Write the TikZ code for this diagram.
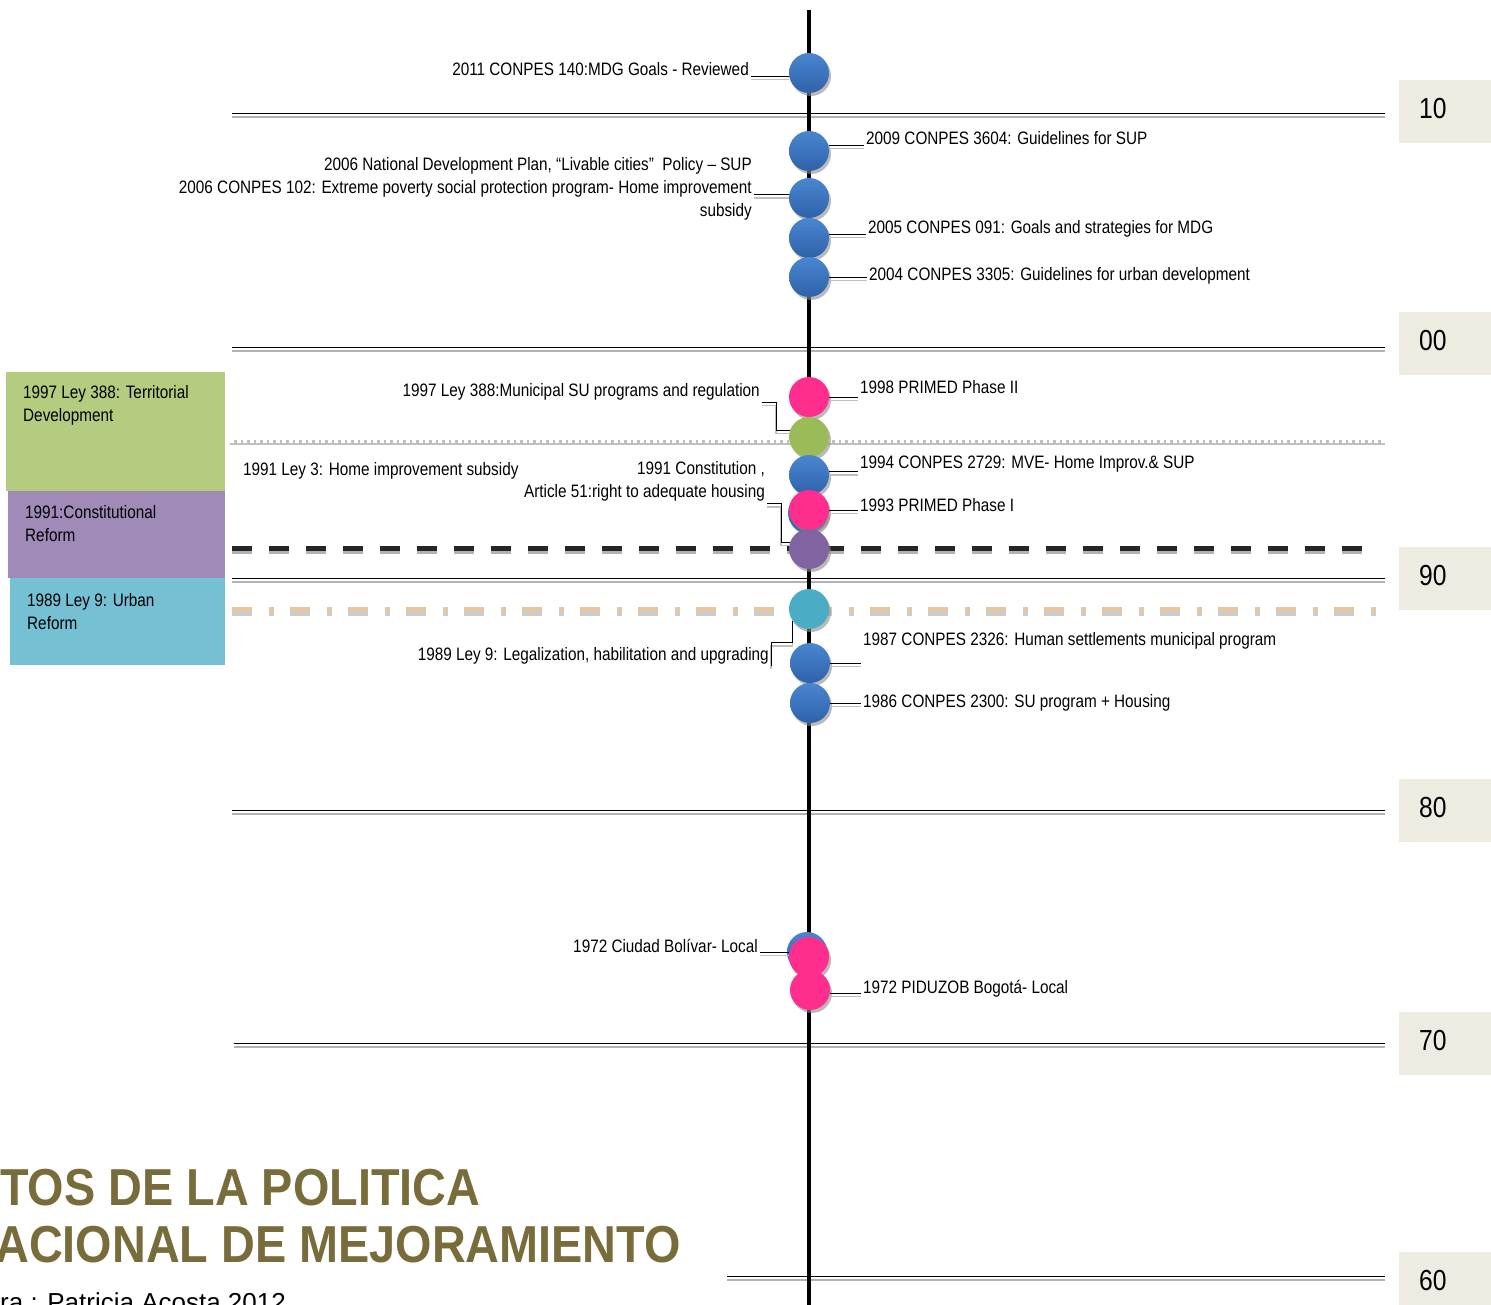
\documentclass[tikz,border=0pt]{standalone}
\usepackage{fontspec}
\setmainfont{Liberation Sans}[FakeStretch=0.85]
\newfontfamily\titlefont{Liberation Sans}[FakeStretch=0.9]
\newfontfamily\plainfont{Liberation Sans}
\usepackage{xcolor}
\usepackage{tikz}
\usetikzlibrary{shadows, positioning}
\definecolor{evtop}{RGB}{74,134,208}
\definecolor{evbot}{RGB}{46,98,170}
\definecolor{evpink}{RGB}{255,45,142}
\definecolor{evgreen}{RGB}{155,187,89}
\definecolor{evpurple}{RGB}{128,100,162}
\definecolor{evteal}{RGB}{75,172,198}
\definecolor{boxgreen}{RGB}{180,204,128}
\definecolor{boxpurple}{RGB}{160,138,184}
\definecolor{boxblue}{RGB}{118,192,212}
\definecolor{decfill}{RGB}{238,236,225}
\definecolor{dashtan}{RGB}{228,200,166}
\definecolor{titleol}{RGB}{119,108,58}
\tikzset{
    event/.style={circle, inner sep=0pt, minimum size=40pt, drop shadow={shadow xshift=2pt, shadow yshift=-3pt, fill=black!45, opacity=0.6}},
    blueev/.style={event, top color=evtop, bottom color=evbot},
    pinkev/.style={event, fill=evpink},
    greenev/.style={event, fill=evgreen},
    purpleev/.style={event, fill=evpurple},
    tealev/.style={event, fill=evteal},
    lbl/.style={inner sep=2pt},
    conn/.style={draw=black, line width=0.8pt, preaction={draw=black!25, line width=1.8pt, transform canvas={yshift=-3.5pt}}},
    decbox/.style={fill=decfill, minimum height=63pt, text width=60pt, text depth=6pt, inner xsep=20pt, align=left, anchor=west, font=\fontsize{29}{32}\selectfont},
    sidebox/.style={rectangle, anchor=north west, inner sep=0pt},
    sidetext/.style={align=left, inner sep=2pt}
}

\begin{document}
\begin{tikzpicture}[x=1pt, y=-1pt, every node/.style={font=\fontsize{18}{23}\selectfont}]
\useasboundingbox (0,0) rectangle (1491,1305);
\clip (0,0) rectangle (1491,1305);

% decades
\foreach \dec/\yy/\xs/\by in {10/113/232/111.5, 00/347/232/343.5, 90/578/232/578.5, 80/810/232/810.5, 70/1043/234/1043.5, 60/1276/727/1283.5} {
    \draw[black!30, line width=2pt] (\xs,\yy+4) -- (1385,\yy+4);
    \draw[line width=0.9pt] (\xs,\yy) -- (1385,\yy);
    \node[decbox] (d\dec) at (1399,\by) {\dec};
}

\draw[black!25, line width=5pt] (230,442) -- (1385,442);
\draw[white, line width=3pt, dash pattern=on 4pt off 2.5pt] (230,441) -- (1385,441);
\draw[black!30, line width=5pt, dash pattern=on 20pt off 17pt] (232,551) -- (1375,551);
\draw[black!85, line width=5pt, dash pattern=on 20pt off 17pt] (232,548) -- (1375,548);
\draw[black!20, line width=5pt, dash pattern=on 20pt off 17pt on 5pt off 16pt] (232,613) -- (1385,613);
\draw[dashtan, line width=5pt, dash pattern=on 20pt off 17pt on 5pt off 16pt] (232,609) -- (1385,609);

\node[sidebox, fill=boxgreen, minimum width=219pt, minimum height=119pt] (bx97) at (6,372) {};
\node[sidebox, fill=boxpurple, minimum width=217pt, minimum height=87pt] (bx91) at (8,491) {};
\node[sidebox, fill=boxblue, minimum width=215pt, minimum height=87pt] (bx89) at (10,578) {};
\node[sidetext, below right=11pt and 15pt of bx97.north west] (s97) {1997 Ley 388: Territorial\\Development};
\node[sidetext, below right=12pt and 15pt of bx91.north west] (s91) {1991:Constitutional\\Reform};
\node[sidetext, below right=13pt and 15pt of bx89.north west] (s89) {1989 Ley 9: Urban\\Reform};

\draw[line width=4.5pt] (809,10) -- (809,1310);

\node[blueev] (e2011) at (809,73) {};
\node[blueev] (e2009) at (809,151) {};
\node[blueev] (e2006) at (809,198) {};
\node[blueev] (e2005) at (809,238) {};
\node[blueev] (e2004) at (809,277) {};
\node[pinkev] (e1998) at (809,397) {};
\node[greenev] (e1997) at (809,437) {};
\node[blueev] (e1994) at (809,475) {};
\node[blueev] (e1993b) at (808,513) {};
\node[pinkev] (e1993) at (809,510) {};
\node[purpleev] (e1991) at (809,549) {};
\node[tealev] (e1989) at (809,609) {};
\node[blueev] (e1987) at (810,663) {};
\node[blueev] (e1986) at (810,703) {};
\node[blueev] (e1972b) at (807,952) {};
\node[pinkev] (e1972c) at (809,957) {};
\node[pinkev] (e1972p) at (810,990) {};

\node[lbl, anchor=base east] (t2011) at (751,76) {2011 CONPES 140:MDG Goals - Reviewed};
\node[lbl, anchor=base west] (t2009) at (864,145) {2009 CONPES 3604: Guidelines for SUP};
\node[lbl, anchor=north east, align=right] (t2006) at (754,155) {2006 National Development Plan, “Livable cities”\ \ Policy – SUP\\2006 CONPES 102: Extreme poverty social protection program- Home improvement\\subsidy};
\node[lbl, anchor=base west] (t2005) at (866,234) {2005 CONPES 091: Goals and strategies for MDG};
\node[lbl, anchor=base west] (t2004) at (867,281) {2004 CONPES 3305: Guidelines for urban development};
\node[lbl, anchor=base east] (t1997m) at (762,396) {1997 Ley 388:Municipal SU programs and regulation};
\node[lbl, anchor=base west] (t1998) at (858,394) {1998 PRIMED Phase II};
\node[lbl, anchor=base west] (t1991l) at (241,475) {1991 Ley 3: Home improvement subsidy};
\node[lbl, anchor=north east, align=right] (t1991c) at (767,459) {1991 Constitution ,\\Article 51:right to adequate housing};
\node[lbl, anchor=base west] (t1994) at (858,468) {1994 CONPES 2729: MVE- Home Improv.\& SUP};
\node[lbl, anchor=base west] (t1993) at (858,511) {1993 PRIMED Phase I};
\node[lbl, anchor=base east] (t1989) at (771,660) {1989 Ley 9: Legalization, habilitation and upgrading};
\node[lbl, anchor=base west] (t1987) at (861,645) {1987 CONPES 2326: Human settlements municipal program};
\node[lbl, anchor=base west] (t1986) at (861,707) {1986 CONPES 2300: SU program + Housing};
\node[lbl, anchor=base east] (t1972c) at (760,952) {1972 Ciudad Bolívar- Local};
\node[lbl, anchor=base west] (t1972p) at (861,993) {1972 PIDUZOB Bogotá- Local};

\draw[conn] (t2011.base east) -- (t2011.base east -| e2011.west);
\draw[conn] (t2009.base west -| e2009.east) -- (t2009.base west);
\draw[conn] (e2006.170) -- (e2006.170 -| t2006.east);
\draw[conn] (t2005.base west -| e2005.east) -- (t2005.base west);
\draw[conn] (e2004.east) -- (e2004.east -| t2004.west);
\draw[conn] (t1997m.south east) -- ++(14,0) |- (e1997.160);
\draw[conn] (e1998.east) -- (e1998.east -| t1998.west);
\draw[conn] (t1991c.south east) -- ++(14,0) |- (e1991.160);
\draw[conn] (e1994.10) -- (e1994.10 -| t1994.west);
\draw[conn] (e1993.east) -- (e1993.east -| t1993.west);
\draw[conn] (e1989.215) -- ++(0,22) -| (t1989.south east);
\draw[conn] (e1987.east) -- (e1987.east -| t1987.west);
\draw[conn] (e1986.east) -- (e1986.east -| t1986.west);
\draw[conn] (t1972c.base east) -- (t1972c.base east -| e1972c.west);
\draw[conn] (t1972p.base west -| e1972p.east) -- (t1972p.base west);

\node[anchor=base west, inner sep=0pt, text=titleol, font=\titlefont\bfseries\fontsize{52}{60}\selectfont] (title1) at (0,1205) {TOS DE LA POLITICA};
\node[anchor=base east, inner sep=0pt, text=titleol, font=\titlefont\bfseries\fontsize{52}{60}\selectfont] (title2) at (681,1262) {ACIONAL DE MEJORAMIENTO};
\node[anchor=base west, inner sep=0pt, font=\plainfont\fontsize{26}{30}\selectfont] (credit) at (0,1311) {ra : Patricia Acosta 2012};
\end{tikzpicture}
\end{document}
